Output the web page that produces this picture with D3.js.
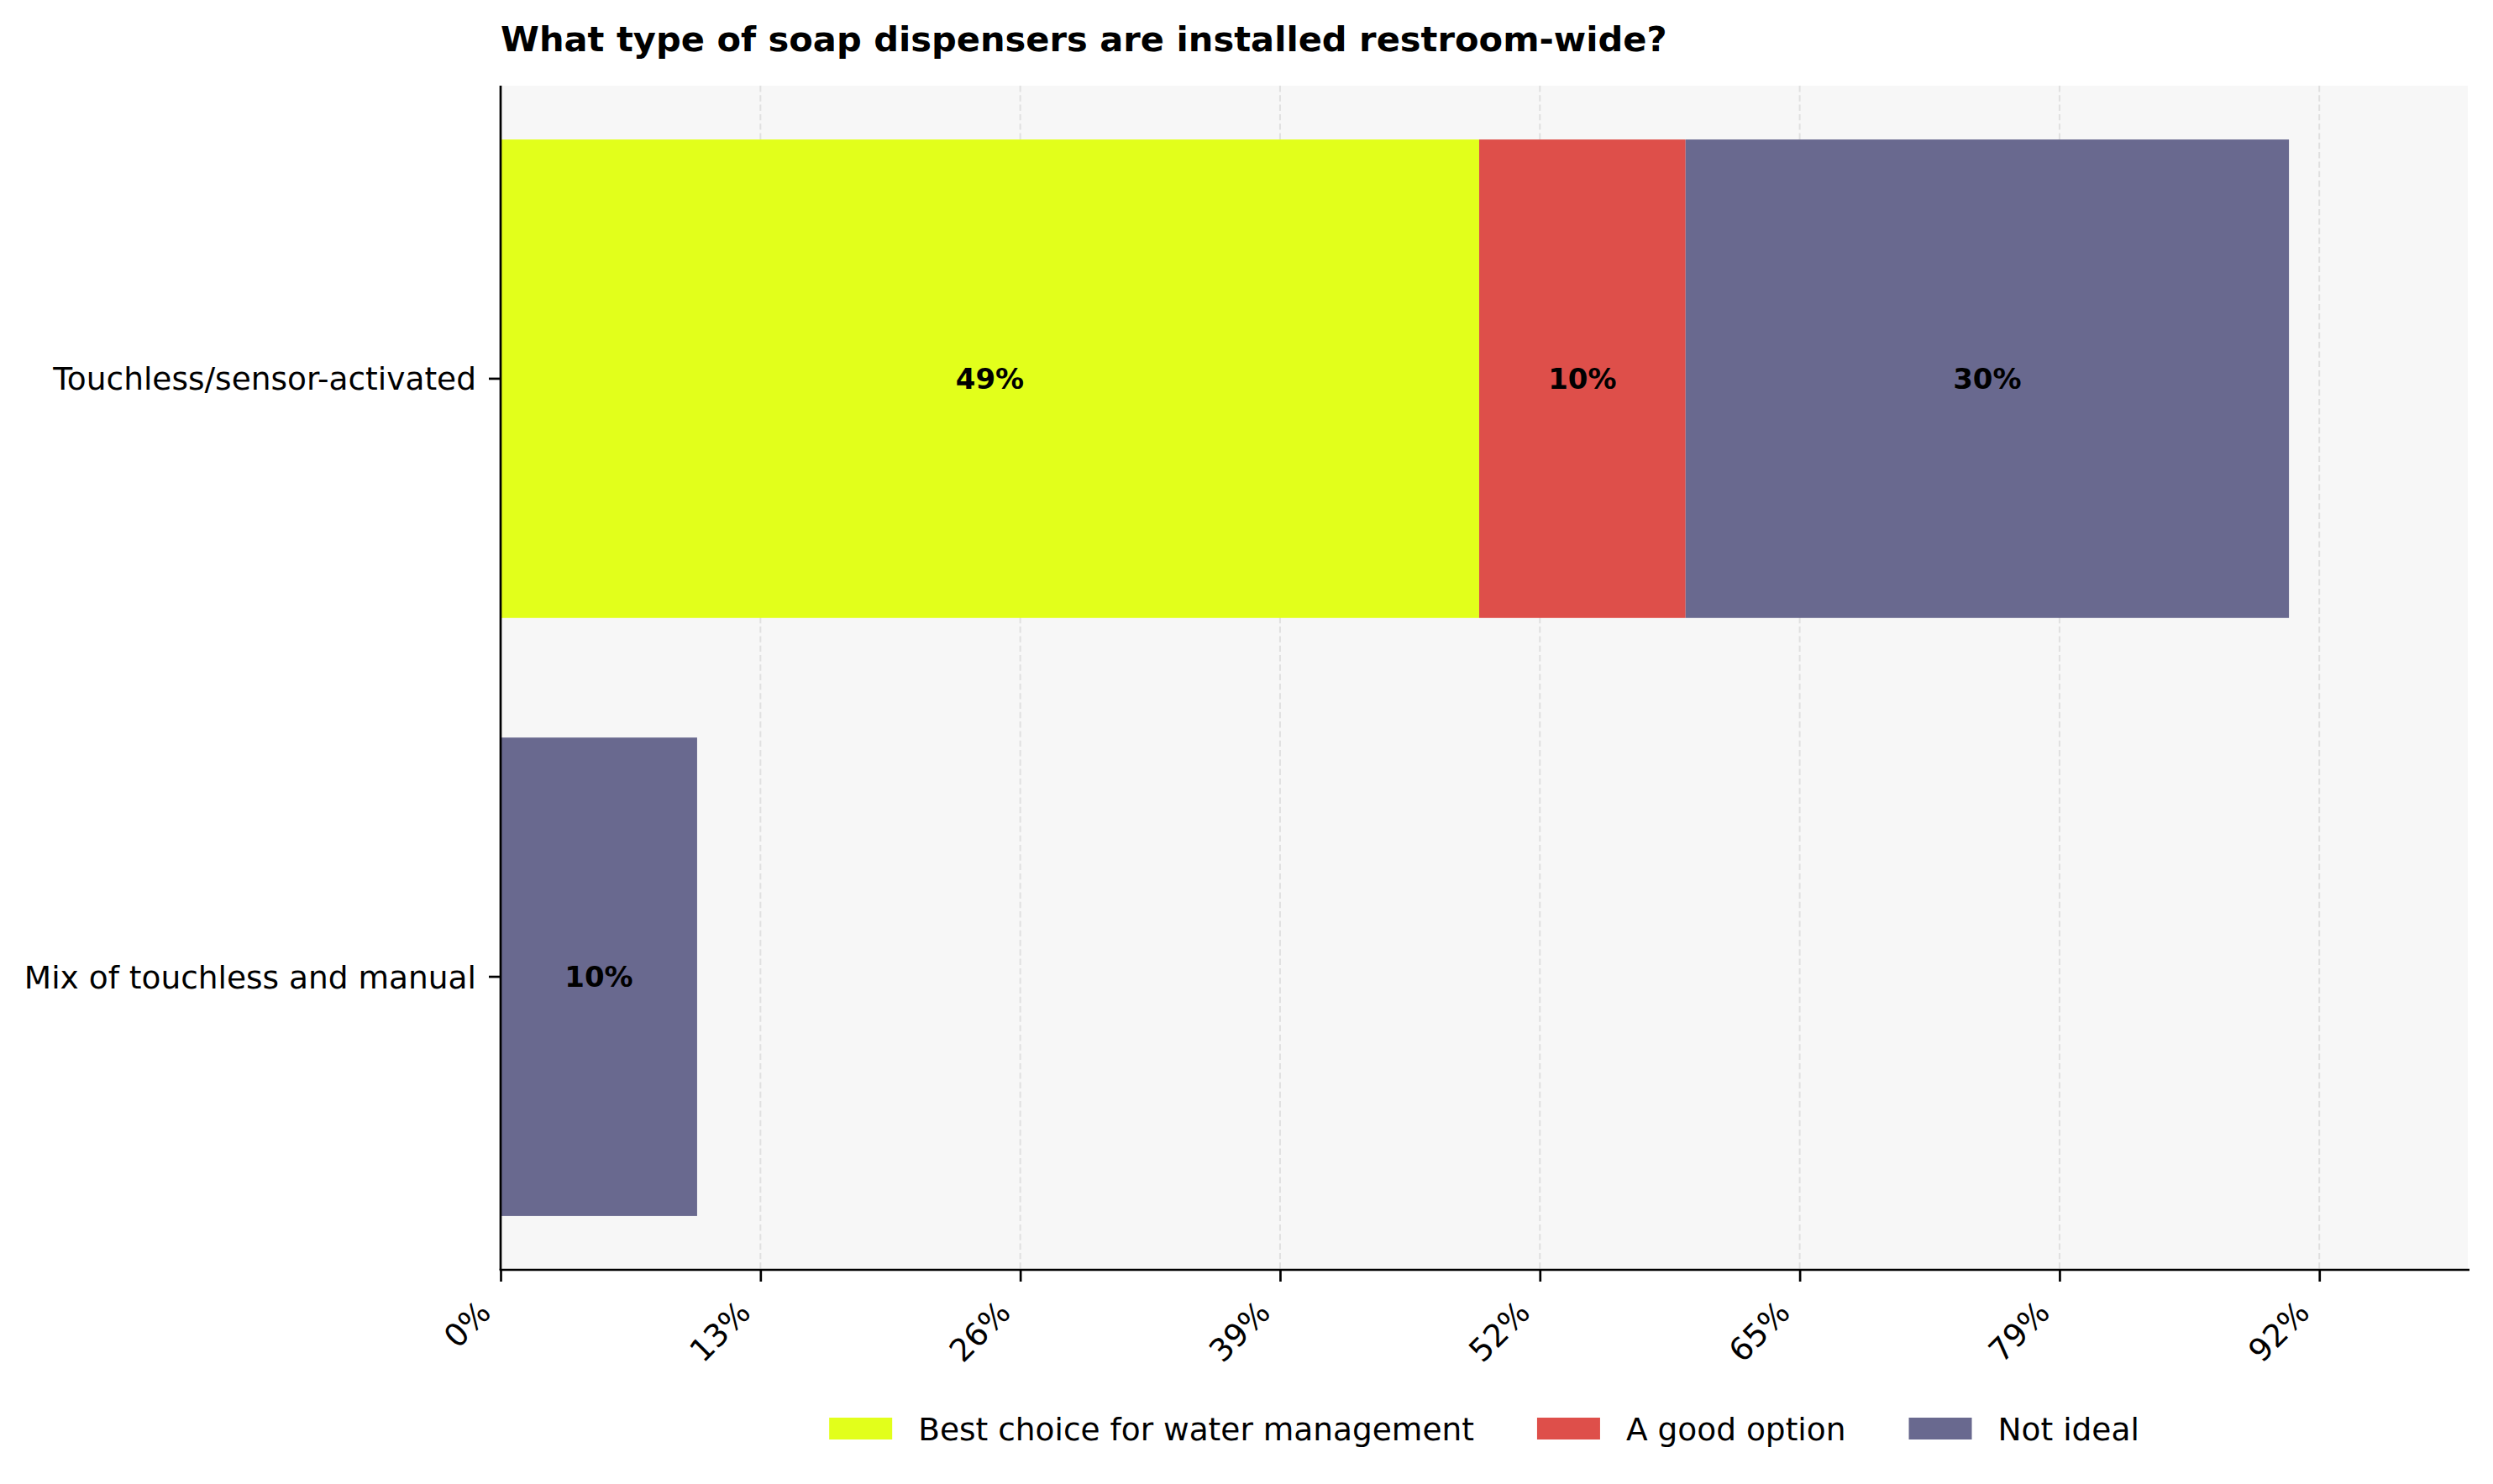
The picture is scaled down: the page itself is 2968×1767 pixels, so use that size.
<!DOCTYPE html>
<html>
<head>
<meta charset="utf-8">
<script src="https://cdn.jsdelivr.net/npm/d3@7"></script>
<style>
    body { margin: 0; background: #fff; }
    svg { display: block; font-family: "DejaVu Sans", sans-serif; }
</style>
</head>
<body>
<svg id="chart" width="2968" height="1767"></svg>
<script>
const title = "What type of soap dispensers are installed restroom-wide?"

const categories = ["Touchless/sensor-activated", "Mix of touchless and manual"]
const seriesNames = ["Best choice for water management", "A good option", "Not ideal"]
const seriesColors = ["#e2ff1b", "#de4f4a", "#69698f"]

// percent of respondents, one array per series, in category order
const bestChoice = [49.3, 0]
const goodOption = [10.4, 0]
const notIdeal = [30.4, 9.9]

const xTickValues = [0, 13.09, 26.18, 39.27, 52.36, 65.45, 78.54, 91.63]
const xTickLabels = ["0%", "13%", "26%", "39%", "52%", "65%", "79%", "92%"]

const width = 2968, height = 1767
const margin = {top: 102, right: 30, bottom: 255, left: 596}
const tickLen = 14
const fontSize = 37.5

const rows = categories.map((c, i) => ({
    category: c,
    "Best choice for water management": bestChoice[i],
    "A good option": goodOption[i],
    "Not ideal": notIdeal[i]
}))

const stack = d3.stack().keys(seriesNames)(rows)
const maxTotal = d3.max(rows, r => d3.sum(seriesNames, k => r[k]))

const x = d3.scaleLinear()
    .domain([0, maxTotal * 1.1])
    .range([margin.left, width - margin.right])

const y = d3.scaleBand()
    .domain(categories)
    .range([margin.top, height - margin.bottom])
    .paddingInner(0.2)
    .paddingOuter(0.09)

const color = d3.scaleOrdinal().domain(seriesNames).range(seriesColors)

const svg = d3.select("#chart")

// axes background
svg.append("rect")
    .attr("x", margin.left).attr("y", margin.top)
    .attr("width", width - margin.left - margin.right)
    .attr("height", height - margin.top - margin.bottom)
    .attr("fill", "#f7f7f7")

// vertical grid
svg.append("g")
    .selectAll("line")
    .data(xTickValues)
    .join("line")
    .attr("x1", d => x(d)).attr("x2", d => x(d))
    .attr("y1", margin.top).attr("y2", height - margin.bottom)
    .attr("stroke", "#e0e0e0")
    .attr("stroke-width", 2)
    .attr("stroke-dasharray", "7.4 3.9")

// bars
const layer = svg.append("g")
    .selectAll("g")
    .data(stack)
    .join("g")
    .attr("fill", d => color(d.key))

layer.selectAll("rect")
    .data(d => d.filter(s => s[1] - s[0] > 0))
    .join("rect")
    .attr("x", d => x(d[0]))
    .attr("y", d => y(d.data.category))
    .attr("width", d => x(d[1]) - x(d[0]))
    .attr("height", y.bandwidth())

layer.selectAll("text")
    .data(d => d.filter(s => s[1] - s[0] > 0))
    .join("text")
    .attr("x", d => (x(d[0]) + x(d[1])) / 2)
    .attr("y", d => y(d.data.category) + y.bandwidth() / 2)
    .attr("text-anchor", "middle")
    .attr("dominant-baseline", "central")
    .attr("fill", "#000")
    .attr("font-size", 34)
    .attr("font-weight", "bold")
    .text(d => d3.format(".0f")(d[1] - d[0]) + "%")

// y axis
const yAxis = svg.append("g")
    .attr("transform", `translate(${margin.left},0)`)
    .call(d3.axisLeft(y).tickSize(tickLen).tickPadding(15))
yAxis.select(".domain").remove()
yAxis.selectAll(".tick line").attr("stroke", "#000").attr("stroke-width", 2.7)
yAxis.selectAll(".tick text")
    .attr("font-size", fontSize)
    .attr("font-family", "DejaVu Sans")
    .attr("fill", "#000")
    .attr("dy", "0.36em")

// x axis
const xAxis = svg.append("g")
    .attr("transform", `translate(0,${height - margin.bottom})`)
    .call(d3.axisBottom(x).tickValues(xTickValues).tickSize(tickLen)
        .tickFormat((d, i) => xTickLabels[i]))
xAxis.select(".domain").remove()
xAxis.selectAll(".tick line").attr("stroke", "#000").attr("stroke-width", 2.7)
xAxis.selectAll(".tick text")
    .attr("font-size", fontSize)
    .attr("font-family", "DejaVu Sans")
    .attr("fill", "#000")
    .attr("text-anchor", "end")
    .attr("y", 0).attr("dy", 0)
    .attr("transform", "translate(-10,53) rotate(-45)")

// spines
svg.append("line")
    .attr("x1", margin.left).attr("x2", margin.left)
    .attr("y1", margin.top).attr("y2", height - margin.bottom)
    .attr("stroke", "#000").attr("stroke-width", 2.7)
svg.append("line")
    .attr("x1", margin.left - 1.35).attr("x2", width - margin.right + 2)
    .attr("y1", height - margin.bottom).attr("y2", height - margin.bottom)
    .attr("stroke", "#000").attr("stroke-width", 2.7)

// title
svg.append("text")
    .attr("x", margin.left)
    .attr("y", 61)
    .attr("font-size", 41.6)
    .attr("font-weight", "bold")
    .text(title)

// legend, centred under the axes
const legend = svg.append("g")
const items = legend.selectAll("g")
    .data(seriesNames)
    .join("g")
items.append("rect")
    .attr("width", 75).attr("height", 26)
    .attr("y", -13)
    .attr("fill", d => color(d))
items.append("text")
    .attr("x", 106)
    .attr("dy", "0.36em")
    .attr("font-size", fontSize)
    .text(d => d)

let offset = 0
items.each(function () {
    const w = this.querySelector("text").getComputedTextLength()
    d3.select(this).attr("transform", `translate(${offset},0)`)
    offset += 106 + w + 75
})
const legendWidth = offset - 75
legend.attr("transform", `translate(${(x.range()[0] + x.range()[1]) / 2 - legendWidth / 2},1701)`)
</script>
</body>
</html>
